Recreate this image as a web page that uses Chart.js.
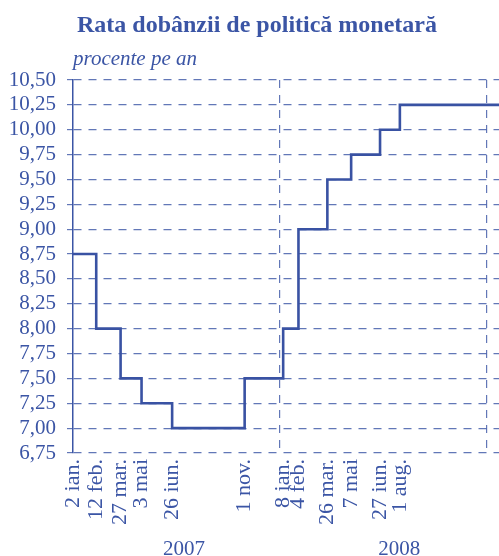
<!DOCTYPE html>
<html>
<head>
<meta charset="utf-8">
<script src="https://cdn.jsdelivr.net/npm/chart.js@4/dist/chart.umd.min.js"></script>
<style>
html,body{margin:0;padding:0;background:#fff;}
#wrap{width:499px;height:556px;position:relative;}
</style>
</head>
<body>
<div id="wrap"><canvas id="c"></canvas></div>
<script>
// ---- data ----
const titleText = 'Rata dobânzii de politică monetară';
const unitText = 'procente pe an';
const changeDates = ['2007-01-02','2007-02-12','2007-03-27','2007-05-03','2007-06-26','2007-11-01',
                     '2008-01-08','2008-02-04','2008-03-26','2008-05-07','2008-06-27','2008-08-01'];
const rates = [8.75, 8.00, 7.50, 7.25, 7.00, 7.50, 8.00, 9.00, 9.50, 9.75, 10.00, 10.25];
const dateLabels = ['2 ian.','12 feb.','27 mar.','3 mai','26 iun.','1 nov.',
                    '8 ian.','4 feb.','26 mar.','7 mai','27 iun.','1 aug.'];
const axisEndDate = '2009-01-23';
const yearBoundaries = ['2008-01-01','2009-01-01'];
const yearNames = ['2007','2008'];
const yearLabelDates = ['2007-07-17','2008-07-31'];
const yTicks = [6.75,7.00,7.25,7.50,7.75,8.00,8.25,8.50,8.75,9.00,9.25,9.50,9.75,10.00,10.25,10.50];

// ---- helpers ----
const base = Date.UTC(2007,0,1);
function dayNum(s){ const [y,m,d]=s.split('-').map(Number); return Math.round((Date.UTC(y,m-1,d)-base)/86400000); }
const changeDays = changeDates.map(dayNum);
const endDay = dayNum(axisEndDate);
const boundaryDays = yearBoundaries.map(dayNum);
const yearDays = yearLabelDates.map(dayNum);

const points = changeDays.map((d,i)=>({x:d,y:rates[i]}));
points.push({x:endDay,y:rates[rates.length-1]});

const BLUE = '#3b55a5';
const GRID = 'rgba(59,85,165,0.8)';
const FONT = "'Liberation Serif','Times New Roman',serif";
const DASH = [8,7];

const mainTickVals = changeDays.concat(boundaryDays);
const labelByDay = {};
changeDays.forEach((d,i)=>labelByDay[d]=dateLabels[i]);
const yearByDay = {};
yearDays.forEach((d,i)=>yearByDay[d]=yearNames[i]);

function noPad(scale){ scale.paddingLeft=0; scale.paddingRight=0; }

const headerPlugin = {
  id:'header',
  afterDraw(chart){
    const ctx = chart.ctx;
    ctx.save();
    ctx.fillStyle = BLUE;
    ctx.textBaseline = 'alphabetic';
    ctx.font = "bold 24px " + FONT;
    ctx.textAlign = 'center';
    ctx.fillText(titleText, 257, 32);
    ctx.font = "italic 21px " + FONT;
    ctx.textAlign = 'left';
    ctx.fillText(unitText, chart.chartArea.left, 65);
    ctx.restore();
  }
};

new Chart(document.getElementById('c'), {
  type:'line',
  data:{
    datasets:[{
      data:points,
      stepped:'before',
      borderColor:'#3952a3',
      borderWidth:2.6,
      pointRadius:0,
      fill:false,
      xAxisID:'x',
      yAxisID:'y'
    }]
  },
  options:{
    responsive:true,
    maintainAspectRatio:false,
    animation:false,
    devicePixelRatio:1,
    layout:{padding:{top:80,left:0,right:0,bottom:0}},
    plugins:{legend:{display:false},tooltip:{enabled:false},title:{display:false}},
    scales:{
      x:{
        type:'linear',
        position:'bottom',
        weight:0,
        min:changeDays[0],
        max:endDay,
        afterBuildTicks(scale){ scale.ticks = mainTickVals.map(v=>({value:v})); },
        afterFit(scale){ scale.height = 82; noPad(scale); },
        ticks:{
          autoSkip:false,
          minRotation:90,
          maxRotation:90,
          padding:6,
          color:BLUE,
          font:{family:FONT,size:22},
          callback(v){ return labelByDay[v] || ''; }
        },
        grid:{
          drawTicks:false,
          lineWidth:1.2,
          color(ctx){ return (ctx.tick && boundaryDays.includes(ctx.tick.value)) ? GRID : 'rgba(0,0,0,0)'; }
        },
        border:{display:false,dash:DASH}
      },
      xYear:{
        type:'linear',
        position:'bottom',
        weight:1,
        min:changeDays[0],
        max:endDay,
        afterBuildTicks(scale){ scale.ticks = yearDays.map(v=>({value:v})); },
        afterFit(scale){ scale.height = 21; noPad(scale); },
        ticks:{
          autoSkip:false,
          maxRotation:0,
          minRotation:0,
          padding:2,
          color:BLUE,
          font:{family:FONT,size:21},
          callback(v){ return yearByDay[v] || ''; }
        },
        grid:{display:false,drawTicks:false},
        border:{display:false}
      },
      y:{
        type:'linear',
        min:6.75,
        max:10.5,
        afterBuildTicks(scale){ scale.ticks = yTicks.map(v=>({value:v})); },
        afterFit(scale){ scale.width = 73; },
        ticks:{
          autoSkip:false,
          color:BLUE,
          padding:11,
          font:{family:FONT,size:21},
          callback(v){ return Number(v).toFixed(2).replace('.',','); }
        },
        grid:{
          color:GRID,
          lineWidth:1.2,
          tickLength:6,
          tickBorderDash:[]
        },
        border:{display:true,color:BLUE,width:1.5,dash:DASH}
      }
    }
  },
  plugins:[headerPlugin]
});
</script>
</body>
</html>
